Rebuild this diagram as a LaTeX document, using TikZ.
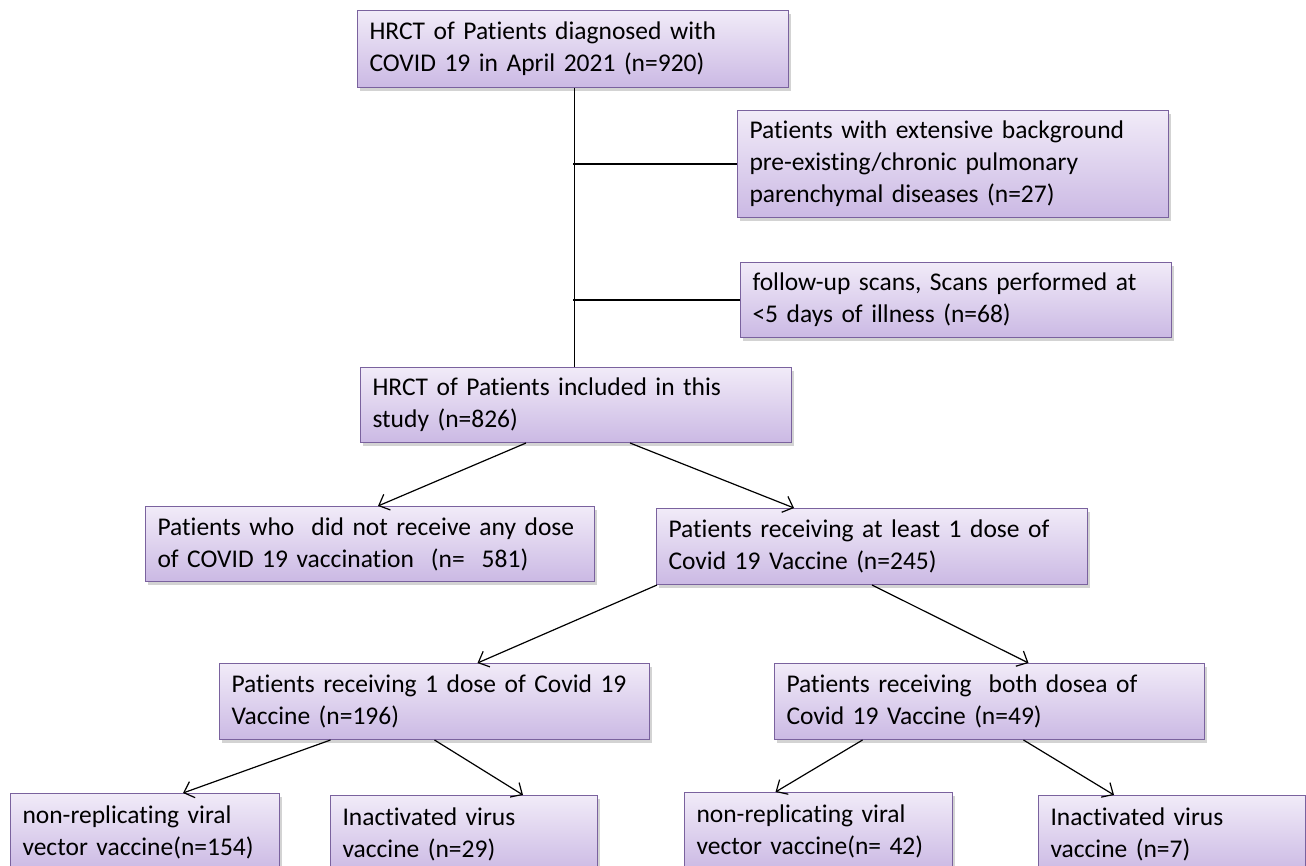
\documentclass[tikz,border=0pt]{standalone}
\usepackage{fontspec}
\setmainfont{Carlito}[Ligatures=NoCommon]
\usetikzlibrary{arrows.meta, positioning, shadows}

\definecolor{boxtop}{RGB}{241,235,248}
\definecolor{boxbot}{RGB}{203,185,228}
\definecolor{boxline}{RGB}{122,98,158}

\begin{document}
\begin{tikzpicture}[
    x=1pt, y=-1pt,
    font=\fontsize{25.5}{32}\selectfont,
    flowbox/.style={
        rectangle,
        draw=boxline, line width=1pt,
        top color=boxtop, bottom color=boxbot,
        drop shadow={shadow xshift=2pt, shadow yshift=-3pt, opacity=0.35},
        anchor=north west,
        align=left,
        inner xsep=12pt, inner ysep=0pt
    },
    link/.style={
        line width=1.2pt, black
    },
    arrow/.style={
        line width=1.2pt, black, -{Straight Barb[length=9pt, width=17pt]}
    }
]
\useasboundingbox (0,0) rectangle (1306,865);

\node (diagnosed) [flowbox, text width=407pt, minimum height=77pt] at (357,10)
    {HRCT of Patients diagnosed with\\COVID 19 in April 2021 (n=920)};
\node (chronic) [flowbox, text width=407pt, minimum height=107pt] at (737,110)
    {Patients with extensive background\\pre-existing/chronic pulmonary\\parenchymal diseases (n=27)};
\node (followup) [flowbox, text width=407pt, minimum height=75pt] at (740,262)
    {follow-up scans, Scans performed at\\<5 days of illness (n=68)};
\node (included) [flowbox, text width=407pt, minimum height=75pt] at (360,367)
    {HRCT of Patients included in this\\study (n=826)};
\node (novacc) [flowbox, text width=425pt, minimum height=75pt] at (145,506)
    {Patients who~ did not receive any dose\\of COVID 19 vaccination~ (n=~ 581)};
\node (vacc) [flowbox, text width=407pt, minimum height=76pt] at (656,508)
    {Patients receiving at least 1 dose of\\Covid 19 Vaccine (n=245)};
\node (onedose) [flowbox, text width=406pt, minimum height=76pt] at (219,663)
    {Patients receiving 1 dose of Covid 19\\Vaccine (n=196)};
\node (twodose) [flowbox, text width=406pt, minimum height=76pt] at (774,663)
    {Patients receiving~ both dosea of\\Covid 19 Vaccine (n=49)};
\node (vectorA) [flowbox, text width=245pt, minimum height=78pt] at (10,793)
    {non-replicating viral\\vector vaccine(n=154)};
\node (inactA) [flowbox, text width=243pt, minimum height=78pt] at (330,795)
    {Inactivated virus\\vaccine (n=29)};
\node (vectorB) [flowbox, text width=244pt, minimum height=78pt] at (684,792)
    {non-replicating viral\\vector vaccine(n= 42)};
\node (inactB) [flowbox, text width=243pt, minimum height=78pt] at (1038,795)
    {Inactivated virus\\vaccine (n=7)};

% exclusions
\draw [link] ([xshift=1.5pt]diagnosed.south) -- ([xshift=1.5pt]diagnosed.south |- included.north);
\draw [link] (chronic.west) -- (chronic.west -| diagnosed.south);
\draw [link] (followup.west) -- (followup.west -| diagnosed.south);

% vaccination status
\draw [arrow] ([xshift=-50pt]included.south) -- ([xshift=8pt]novacc.north);
\draw [arrow] ([xshift=54pt]included.south) -- ([xshift=-78pt]vacc.north);
\draw [arrow] ([xshift=1pt]vacc.south west) -- ([xshift=43pt]onedose.north);
\draw [arrow] (vacc.south) -- ([xshift=39pt]twodose.north);

% vaccine types
\draw [arrow] ([xshift=-104pt]onedose.south) -- ([xshift=38pt]vectorA.north);
\draw [arrow] (onedose.south) -- ([xshift=59pt]inactA.north);
\draw [arrow] ([xshift=-127pt]twodose.south) -- ([xshift=-43pt]vectorB.north);
\draw [arrow] ([xshift=34pt]twodose.south) -- ([xshift=-58pt]inactB.north);

\end{tikzpicture}
\end{document}
